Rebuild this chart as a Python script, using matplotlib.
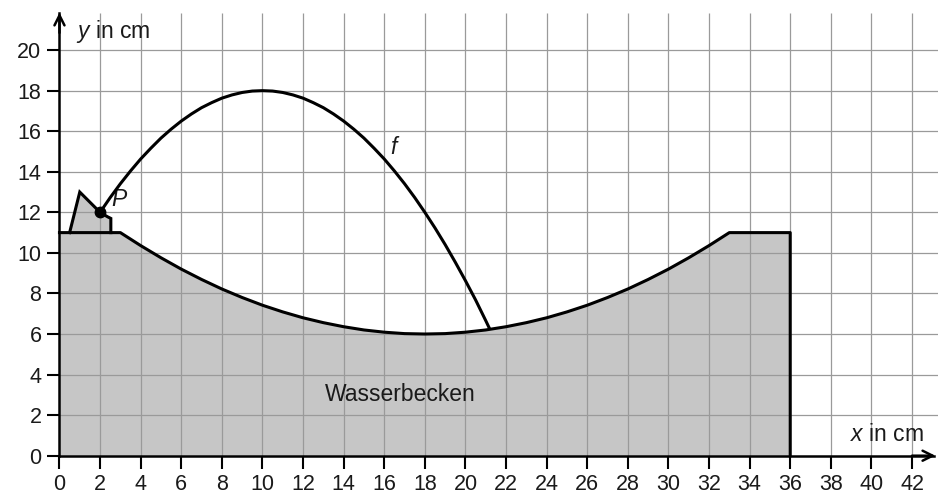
import matplotlib
matplotlib.use("Agg")
import matplotlib.pyplot as plt

# Werte
# Becken: Umriss (linke Kante, gekruemmter Boden, rechte Kante)
basin_x = [0, 0, 3, 4, 5, 6, 7, 8, 9, 10, 11, 12, 13, 14, 15, 16, 17, 18,
           19, 20, 21, 22, 23, 24, 25, 26, 27, 28, 29, 30, 31, 32, 33, 36, 36]
basin_y = [0, 11, 11, 10.36, 9.76, 9.2, 8.69, 8.22, 7.8, 7.42, 7.09, 6.8,
           6.56, 6.36, 6.2, 6.09, 6.02, 6, 6.02, 6.09, 6.2, 6.36, 6.56, 6.8,
           7.09, 7.42, 7.8, 8.22, 8.69, 9.2, 9.76, 10.36, 11, 11, 0]

# Duese links oben
nozzle_x = [0.5, 1, 2, 2.37, 2.53, 2.53]
nozzle_y = [11, 13, 12, 11.78, 11.7, 11]

# Wasserstrahl f
f_x = [2, 2.5, 3, 3.5, 4, 4.5, 5, 5.5, 6, 6.5, 7, 7.5, 8, 8.5, 9, 9.5, 10,
       10.5, 11, 11.5, 12, 12.5, 13, 13.5, 14, 14.5, 15, 15.5, 16, 16.5, 17,
       17.5, 18, 18.5, 19, 19.5, 20, 20.5, 21, 21.2]
f_y = [12, 12.73, 13.41, 14.04, 14.63, 15.16, 15.66, 16.1, 16.5, 16.85, 17.16,
       17.41, 17.63, 17.79, 17.91, 17.98, 18, 17.98, 17.91, 17.79, 17.63, 17.41,
       17.16, 16.85, 16.5, 16.1, 15.66, 15.16, 14.63, 14.04, 13.41, 12.73, 12,
       11.23, 10.41, 9.54, 8.63, 7.68, 6.66, 6.24]

P = (2, 12)

x_ticks = list(range(0, 43, 2))
y_ticks = list(range(0, 21, 2))

plt.rcParams["font.family"] = ["Liberation Sans", "DejaVu Sans"]
plt.rcParams["mathtext.fontset"] = "custom"
plt.rcParams["mathtext.rm"] = "Liberation Sans"
plt.rcParams["mathtext.it"] = "Liberation Sans:italic"

TEXT = "#1a1a1a"
GRID = "#9a9a9a"
FILL = "#c6c6c6"
FS = 16.5
FS_TICK = 15.5

fig = plt.figure(figsize=(9.38, 4.99), dpi=100)
ax = fig.add_axes([0, 0, 1, 1])
ax.set_xlim(-2.93, 43.28)
ax.set_ylim(-2.135, 22.47)
ax.patch.set_alpha(0)

x_top = 43.28
y_top = 21.85

# Gitter
ax.vlines(x_ticks[1:], 0, y_top, color=GRID, lw=0.9, zorder=2)
ax.hlines(y_ticks[1:], 0, x_top, color=GRID, lw=0.9, zorder=2)

# Becken
ax.fill(basin_x, basin_y, color=FILL, lw=0, zorder=1)
ax.plot(basin_x[1:], basin_y[1:], color="black", lw=2.2, zorder=3,
        solid_joinstyle="round")
ax.fill(nozzle_x, nozzle_y, color=FILL, lw=0, zorder=1)
ax.plot(nozzle_x, nozzle_y, color="black", lw=2.2, zorder=3,
        solid_joinstyle="miter")

# Strahl
ax.plot(f_x, f_y, color="black", lw=2.2, zorder=4, solid_capstyle="butt",
        solid_joinstyle="round")
ax.plot(*P, "o", color="black", ms=7.5, zorder=5)

# Achsen
for side in ["top", "right"]:
    ax.spines[side].set_visible(False)
ax.spines["left"].set_position(("data", 0))
ax.spines["bottom"].set_position(("data", 0))
ax.spines["left"].set_bounds(0, y_top)
ax.spines["bottom"].set_bounds(0, 43.1)
for side in ["left", "bottom"]:
    ax.spines[side].set_linewidth(1.8)
    ax.spines[side].set_zorder(6)

ax.annotate("", xy=(0, y_top), xytext=(0, y_top - 1),
            arrowprops=dict(arrowstyle="->", lw=1.8, color="black",
                            mutation_scale=18, shrinkA=0, shrinkB=0), zorder=6)
ax.annotate("", xy=(43.15, 0), xytext=(42, 0),
            arrowprops=dict(arrowstyle="->", lw=1.8, color="black",
                            mutation_scale=18, shrinkA=0, shrinkB=0), zorder=6)

ax.set_xticks(x_ticks)
ax.set_yticks(y_ticks)
ax.tick_params(direction="out", length=9, width=1.5, labelsize=FS_TICK,
               colors="black", labelcolor=TEXT)
ax.tick_params(axis="x", pad=4.5)
ax.tick_params(axis="y", pad=4)

# Beschriftungen
ax.text(0.8, 20.9, "$y$ in cm", fontsize=FS, color=TEXT, va="center", ha="left")
ax.text(38.95, 1.07, "$x$ in cm", fontsize=FS, color=TEXT, va="center", ha="left")
ax.text(16.55, 15.2, "$f$", fontsize=FS, color=TEXT, va="center", ha="center")
ax.text(2.95, 12.65, "$P$", fontsize=FS, color=TEXT, va="center", ha="center")
ax.text(16.77, 3.0, "Wasserbecken", fontsize=FS, color=TEXT, va="center", ha="center")

fig.savefig("out.png", dpi=100)
